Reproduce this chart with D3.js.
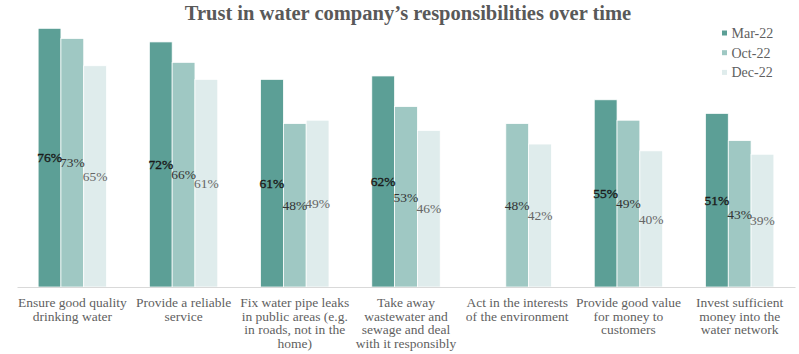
<!DOCTYPE html>
<html>
<head>
<meta charset="utf-8">
<script src="https://cdn.jsdelivr.net/npm/d3@7"></script>
<style>
  html, body { margin: 0; padding: 0; background: #fff; }
  svg { display: block; }
</style>
</head>
<body>
<svg id="chart" width="799" height="354"></svg>
<script>
const categories = [
  ["Ensure good quality", "drinking water"],
  ["Provide a reliable", "service"],
  ["Fix water pipe leaks", "in public areas (e.g.", "in roads, not in the", "home)"],
  ["Take away", "wastewater and", "sewage and deal", "with it responsibly"],
  ["Act in the interests", "of the environment"],
  ["Provide good value", "for money to", "customers"],
  ["Invest sufficient", "money into the", "water network"]
];
const seriesNames = ["Mar-22", "Oct-22", "Dec-22"];
const mar22 = [76, 72, 61, 62, null, 55, 51];
const oct22 = [73, 66, 48, 53, 48, 49, 43];
const dec22 = [65, 61, 49, 46, 42, 40, 39];
const colors = ["#5c9f96", "#9fc8c3", "#dfecec"];
const labelColors = ["#1a1a1a", "#333333", "#666666"];

const series = [mar22, oct22, dec22];
const svg = d3.select("#chart");
const font = "'Liberation Serif', 'DejaVu Serif', serif";

const x0 = d3.scaleBand().domain(d3.range(categories.length)).range([17, 795]).paddingInner(0.385).paddingOuter(0.19);
const x1 = d3.scaleBand().domain(d3.range(seriesNames.length)).range([0, x0.bandwidth()]).padding(0);
const y = d3.scaleLinear().domain([0, 80]).range([287, 14.7]);

// Title
svg.append("text")
  .attr("x", 408).attr("y", 20)
  .attr("text-anchor", "middle")
  .attr("font-family", font).attr("font-weight", "bold")
  .attr("font-size", 20.5).attr("fill", "#595959")
  .text("Trust in water company\u2019s responsibilities over time");

// Bars
const groups = svg.append("g").selectAll("g")
  .data(categories.map((c, i) => i))
  .join("g")
  .attr("transform", i => `translate(${x0(i)},0)`);

groups.each(function(ci) {
  const g = d3.select(this);
  series.forEach((s, si) => {
    const v = s[ci];
    if (v == null) return;
    g.append("rect")
      .attr("x", x1(si))
      .attr("y", y(v))
      .attr("width", x1.bandwidth())
      .attr("height", y(0) - y(v))
      .attr("fill", colors[si])
      .attr("stroke", "#fff").attr("stroke-width", 0.75);
  });
});

// Axis baseline
const xAxis = d3.axisBottom(x0).tickSize(0).tickFormat("");
const axisG = svg.append("g").attr("transform", `translate(0,${y(0)})`).call(xAxis);
axisG.select(".domain").attr("stroke", "#d9d9d9").attr("stroke-width", 1.2);

// Data labels
groups.each(function(ci) {
  const g = d3.select(this);
  series.forEach((s, si) => {
    const v = s[ci];
    if (v == null) return;
    g.append("text")
      .attr("x", x1(si) + x1.bandwidth() / 2)
      .attr("y", (y(v) + y(0)) / 2)
      .attr("dy", "0.35em")
      .attr("text-anchor", "middle")
      .attr("font-family", font)
      .attr("font-size", 13.5)
      .attr("fill", labelColors[si])
      .attr("stroke", si === 0 ? labelColors[si] : "none")
      .attr("stroke-width", si === 0 ? 0.35 : 0)
      .text(v + "%");
  });
});

// Category labels
groups.each(function(ci) {
  const g = d3.select(this);
  const t = g.append("text")
    .attr("text-anchor", "middle")
    .attr("font-family", font)
    .attr("font-size", 13.5)
    .attr("fill", "#5f5f5f");
  categories[ci].forEach((line, li) => {
    t.append("tspan")
      .attr("x", x0.bandwidth() / 2)
      .attr("y", 307 + li * 13.6)
      .text(line);
  });
});

// Legend
const legend = svg.append("g");
seriesNames.forEach((n, i) => {
  const ly = 33 + i * 19.7;
  legend.append("rect")
    .attr("x", 722).attr("y", ly - 2.5)
    .attr("width", 5).attr("height", 5)
    .attr("fill", colors[i]);
  legend.append("text")
    .attr("x", 731.5).attr("y", ly)
    .attr("dy", "0.35em")
    .attr("font-family", font)
    .attr("font-size", 14)
    .attr("fill", "#5f5f5f")
    .text(n);
});
</script>
</body>
</html>
